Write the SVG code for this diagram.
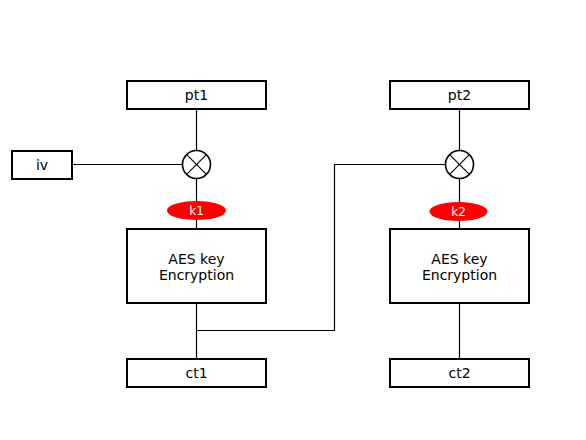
<svg xmlns="http://www.w3.org/2000/svg" width="586" height="440" viewBox="0 0 586 440">
<style>
.box{fill:#fff;stroke:#000;stroke-width:2}
.t{font-family:"DejaVu Sans",Verdana,sans-serif;font-size:14px;fill:#000;text-anchor:middle}
.k{font-family:"DejaVu Sans",Verdana,sans-serif;font-size:12px;fill:#fff;text-anchor:middle}
.ln{fill:none;stroke:#000;stroke-width:1.2}
.xor{fill:#fff;stroke:#000;stroke-width:1.6}
.key{fill:#f00;stroke:none}
</style>
<rect width="586" height="440" fill="#fff"/>
<g id="connectors">
<line class="ln" x1="196.5" y1="109" x2="196.5" y2="229"/>
<line class="ln" x1="72" y1="164.5" x2="183" y2="164.5"/>
<line class="ln" x1="196.5" y1="303" x2="196.5" y2="359"/>
<polyline class="ln" points="196.5,330.5 334.5,330.5 334.5,164.5 445,164.5"/>
<line class="ln" x1="459.5" y1="109" x2="459.5" y2="229"/>
<line class="ln" x1="459.5" y1="303" x2="459.5" y2="359"/>
</g>
<g id="pt1"><rect class="box" x="127" y="81" width="139" height="28"/><text class="t" x="196.5" y="100">pt1</text></g>
<g id="pt2"><rect class="box" x="390" y="81" width="139" height="28"/><text class="t" x="459.5" y="100">pt2</text></g>
<g id="iv"><rect class="box" x="12" y="151" width="60" height="28"/><text class="t" x="42" y="170">iv</text></g>
<g id="xor1"><circle class="xor" cx="196.5" cy="164.5" r="14"/><path class="ln" stroke-width="1.6" d="M186.6,154.6 L206.4,174.4 M206.4,154.6 L186.6,174.4"/></g>
<g id="xor2"><circle class="xor" cx="459.5" cy="164.5" r="14"/><path class="ln" stroke-width="1.6" d="M449.6,154.6 L469.4,174.4 M469.4,154.6 L449.6,174.4"/></g>
<g id="k1"><ellipse class="key" cx="196.5" cy="210.5" rx="29.5" ry="9.5"/><text class="k" x="196.5" y="215">k1</text></g>
<g id="k2"><ellipse class="key" cx="458.5" cy="211.5" rx="29" ry="9.5"/><text class="k" x="458.5" y="216">k2</text></g>
<g id="aes1"><rect class="box" x="127" y="229" width="139" height="74"/><text class="t" x="196.5" y="264">AES key</text><text class="t" x="196.5" y="280">Encryption</text></g>
<g id="aes2"><rect class="box" x="390" y="229" width="139" height="74"/><text class="t" x="459.5" y="264">AES key</text><text class="t" x="459.5" y="280">Encryption</text></g>
<g id="ct1"><rect class="box" x="127" y="359" width="139" height="28"/><text class="t" x="196.5" y="378">ct1</text></g>
<g id="ct2"><rect class="box" x="390" y="359" width="139" height="28"/><text class="t" x="459.5" y="378">ct2</text></g>
</svg>
